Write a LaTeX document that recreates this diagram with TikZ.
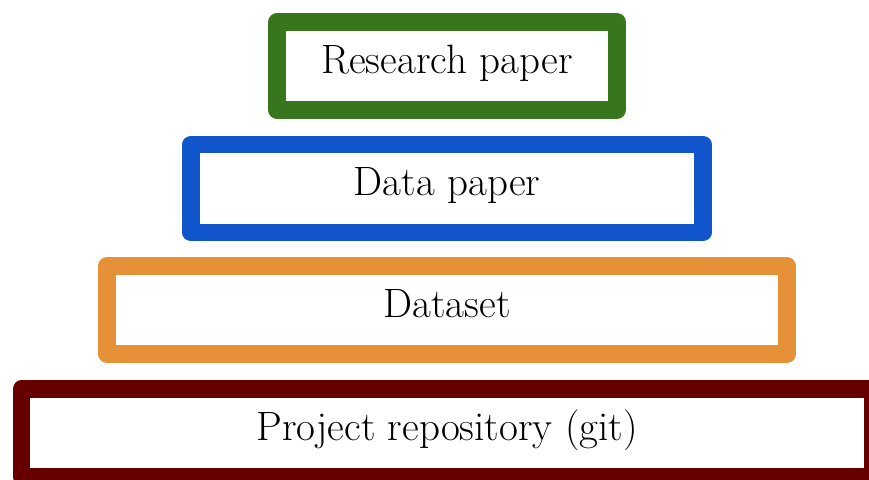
\documentclass[tikz,border=0pt]{standalone}
\usepackage{fontspec}
\usepackage{tikz}
\usetikzlibrary{positioning}
\definecolor{layGreen}{HTML}{38761D}
\definecolor{layBlue}{HTML}{1155CC}
\definecolor{layOrange}{HTML}{E69138}
\definecolor{layRed}{HTML}{660000}
\begin{document}
\begin{tikzpicture}[x=1pt, y=-1pt,
  layer/.style={draw, line width=17.5pt, line join=round, fill=white,
                minimum height=88pt, inner sep=0pt,
                font=\fontsize{41}{45}\selectfont, text height=26pt, text depth=12pt}]
\useasboundingbox (0,0) rectangle (869,479);
\clip (0,0) rectangle (869,479);
% ---- stacked layers, top to bottom
\foreach \name/\y/\w/\col/\txt in {research/66/340/layGreen/{Research paper},
    datapaper/188.5/512/layBlue/{Data paper},
    dataset/310/680/layOrange/{Dataset},
    repo/433/851/layRed/{Project repository (git)}} {
  \node[layer, draw=\col, minimum width=\w pt] (\name) at (447,\y) {\txt};
}
\end{tikzpicture}
\end{document}
